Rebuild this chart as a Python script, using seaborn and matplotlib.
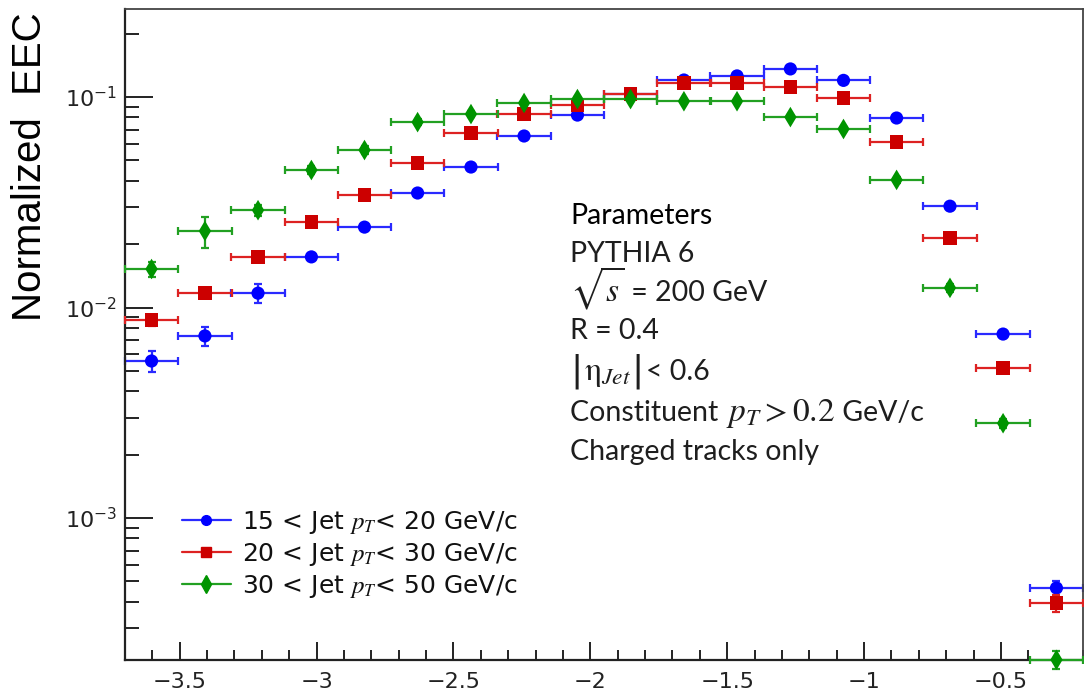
import numpy as np
import pandas as pd
import matplotlib
matplotlib.use("Agg")
import matplotlib.pyplot as plt
import seaborn as sns
from matplotlib.lines import Line2D
from matplotlib.ticker import MultipleLocator, FuncFormatter, NullFormatter, LogLocator

# ---------------- data ----------------
x_centers = [-3.603, -3.408, -3.214, -3.019, -2.825, -2.631, -2.436, -2.242, -2.047,
             -1.853, -1.658, -1.464, -1.269, -1.075, -0.881, -0.686, -0.492, -0.297]
x_halfwidth = 0.0972

eec_15_20 = [0.00557, 0.00733, 0.0117, 0.0174, 0.0241, 0.0350, 0.0465, 0.0653, 0.0821,
             0.1030, 0.1205, 0.1260, 0.1360, 0.1200, 0.0795, 0.0303, 0.00748, 0.000465]
eec_20_30 = [0.00873, 0.0117, 0.0174, 0.0255, 0.0342, 0.0486, 0.0674, 0.0830, 0.0916,
             0.1033, 0.1165, 0.1165, 0.1116, 0.0990, 0.0611, 0.0214, 0.00516, 0.000394]
eec_30_50 = [0.01524, 0.0231, 0.0290, 0.0450, 0.0560, 0.0760, 0.0830, 0.0937, 0.0978,
             0.0978, 0.0955, 0.0955, 0.0803, 0.0705, 0.0404, 0.0124, 0.00282, 0.000212]

relerr_15_20 = [0.11, 0.10, 0.10, 0.03, 0.03, 0.03, 0.02, 0.02, 0.02,
                0.02, 0.02, 0.02, 0.02, 0.02, 0.02, 0.03, 0.03, 0.08]
relerr_20_30 = [0.06, 0.05, 0.04, 0.03, 0.03, 0.03, 0.02, 0.02, 0.02,
                0.02, 0.02, 0.02, 0.02, 0.02, 0.02, 0.03, 0.04, 0.09]
relerr_30_50 = [0.08, 0.17, 0.06, 0.04, 0.04, 0.03, 0.03, 0.02, 0.02,
                0.02, 0.02, 0.02, 0.02, 0.02, 0.03, 0.04, 0.05, 0.10]

labels = [r"15 < Jet $p_T$< 20 GeV/c",
          r"20 < Jet $p_T$< 30 GeV/c",
          r"30 < Jet $p_T$< 50 GeV/c"]

# parameter block: each line is a list of (text, kind) segments
param_lines = [
    [("Parameters", "txt")],
    [("PYTHIA 6", "txt")],
    [(r"$\sqrt{s}$", "math"), (" = 200 GeV", "txt")],
    [("R = 0.4", "txt")],
    [("|", "bar"), (r"$\mathrm{\eta}_{Jet}$", "math"), ("|", "bar"), ("< 0.6", "txt")],
    [("Constituent ", "txt"), (r"$p_T > 0.2$", "math"), (" GeV/c", "txt")],
    [("Charged tracks only", "txt")],
]

# ---------------- style ----------------
sns.set_theme(style="white")
plt.rcParams["font.family"] = ["DejaVu Sans"]
plt.rcParams["mathtext.fontset"] = "stix"

W, H = 1084, 695
fig = plt.figure(figsize=(W / 100, H / 100), dpi=100)
ax = fig.add_axes([125 / W, 35 / H, (1083 - 125) / W, (660 - 9) / H])

series = [
    (eec_15_20, relerr_15_20, "#0000ff", "#2a2aff", "o", 90, labels[0]),
    (eec_20_30, relerr_20_30, "#cc0000", "#dd2222", "s", 95, labels[1]),
    (eec_30_50, relerr_30_50, "#009400", "#22a022", "d", 110, labels[2]),
]

for k, (vals, rel, mcol, lcol, mk, size, lab) in enumerate(series):
    vals = np.asarray(vals)
    yerr = vals * np.asarray(rel)
    ax.errorbar(x_centers, vals, xerr=x_halfwidth, yerr=yerr, fmt="none",
                ecolor=lcol, elinewidth=1.6, capsize=3, capthick=1.6,
                zorder=2 + 2 * k, clip_on=False)
    df = pd.DataFrame({"x": x_centers, "y": vals})
    sns.scatterplot(data=df, x="x", y="y", marker=mk, s=size, color=mcol,
                    edgecolor="none", linewidth=0, ax=ax, zorder=3 + 2 * k,
                    legend=False, clip_on=False)

ax.set_yscale("log")
ax.set_xlim(-3.7, -0.2)
ax.set_ylim(2.115e-4, 0.262)
ax.set_xlabel("")
ax.set_ylabel("")

ax.xaxis.set_major_locator(MultipleLocator(0.5))
ax.xaxis.set_minor_locator(MultipleLocator(0.1))
ax.xaxis.set_major_formatter(FuncFormatter(lambda v, p: f"{v:g}".replace("-", "\u2212")))
ax.yaxis.set_major_locator(LogLocator(base=10))
ax.yaxis.set_minor_locator(LogLocator(base=10, subs=np.arange(2, 10)))
ax.yaxis.set_minor_formatter(NullFormatter())

ax.tick_params(axis="both", which="both", direction="in", bottom=True, left=True,
               top=False, right=False, colors="#111111", labelcolor="#222222")
ax.tick_params(axis="y", which="major", length=20, width=1.3, labelsize=16, pad=6)
ax.tick_params(axis="y", which="minor", length=10, width=1.3)
ax.tick_params(axis="x", which="major", length=13, width=1.3, labelsize=16, pad=9)
ax.tick_params(axis="x", which="minor", length=7, width=1.3)

for side, sp in ax.spines.items():
    sp.set_visible(True)
    sp.set_color("#222222" if side in ("left", "bottom") else "#444444")
    sp.set_linewidth(1.6 if side in ("left", "bottom") else 1.3)

# y label
fig.text(30 / W, 1 - 167 / H, "Normalized  EEC", rotation=90, ha="center", va="center",
         fontsize=29, color="black", family=["Liberation Sans"])

# parameter block
renderer = fig.canvas.get_renderer()
baselines = [224, 262, 301, 339, 380, 421, 460]
sizes = {"txt": 20.5, "math": 24, "bar": 26}
fams = {"txt": ["Lato", "DejaVu Sans"], "math": ["Lato", "DejaVu Sans"], "bar": ["DejaVu Sans"]}
for i, (segs, yb) in enumerate(zip(param_lines, baselines)):
    xpx = 570
    for txt, kind in segs:
        t = fig.text(xpx / W, 1 - yb / H, txt, ha="left", va="baseline",
                     fontsize=sizes[kind],
                     color="black" if i == 0 else "#1e1e1e",
                     family=fams[kind])
        xpx += t.get_window_extent(renderer).width + (2 if kind == "bar" else 0)

# legend
handles = [Line2D([], [], color=s[3], lw=1.6, marker=s[4], markersize=7 if s[4] != "d" else 9,
                  markerfacecolor=s[2], markeredgecolor=s[2]) for s in series]
leg = ax.legend(handles, labels, loc="upper left", bbox_to_anchor=(57 / 958, (660 - 509) / 651),
                frameon=False, fontsize=18, handlelength=1.95, handletextpad=0.45,
                labelspacing=0.2, borderaxespad=0, borderpad=0)
for t in leg.get_texts():
    t.set_color("#111111")

fig.savefig("out.png", dpi=100)
